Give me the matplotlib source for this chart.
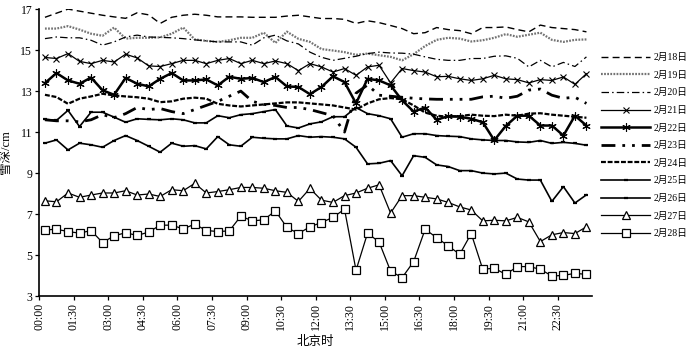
import numpy as np
import matplotlib
matplotlib.use("Agg")
import matplotlib.pyplot as plt

plt.rcParams['font.family'] = ['Liberation Serif', 'Noto Sans CJK SC']

# half-hourly samples (00:15, 00:45, ... 23:45), hours after midnight
hours = 0.25 + 0.5 * np.arange(48)

tick_hours = [0, 1.5, 3, 4.5, 6, 7.5, 9, 10.5, 12, 13.5, 15, 16.5, 18, 19.5, 21, 22.5]
tick_labels = ["00:00", "01:30", "03:00", "04:30", "06:00", "07:30", "09:00", "10:30",
               "12:00", "13:30", "15:00", "16:30", "18:00", "19:30", "21:00", "22:30"]

# snow depth (cm)
feb18 = [16.60, 16.80, 17.00, 16.90, 16.80, 16.70, 16.62, 16.55, 16.82, 16.72, 16.30, 16.60,
         16.70, 16.75, 16.70, 16.62, 16.62, 16.62, 16.60, 16.60, 16.60, 16.66, 16.70, 16.62,
         16.54, 16.54, 16.50, 16.30, 16.43, 16.34, 16.20, 16.05, 15.80, 15.85, 16.10, 16.00,
         15.95, 15.80, 16.10, 16.10, 16.13, 16.00, 15.89, 16.22, 16.10, 16.05, 16.00, 15.89]
feb19 = [16.05, 16.05, 16.17, 16.00, 15.80, 15.70, 16.10, 15.56, 15.60, 15.60, 15.62, 15.80,
         16.10, 15.52, 15.45, 15.40, 15.48, 15.60, 15.60, 15.85, 15.35, 15.90, 15.55, 15.40,
         15.05, 14.98, 14.90, 14.77, 14.83, 14.75, 14.67, 14.50, 14.80, 15.20, 15.50, 15.60,
         15.56, 15.42, 15.48, 15.60, 15.78, 15.65, 15.75, 15.85, 15.50, 15.40, 15.50, 15.52]
feb20 = [15.56, 15.64, 15.60, 15.60, 15.48, 15.24, 15.40, 15.64, 15.73, 15.64, 15.62, 15.60,
         15.56, 15.50, 15.45, 15.40, 15.40, 15.40, 15.24, 15.60, 15.73, 15.45, 15.30, 14.90,
         14.65, 14.50, 14.60, 14.70, 14.83, 14.90, 14.86, 14.85, 14.80, 14.67, 14.55, 14.50,
         14.50, 14.59, 14.59, 14.70, 14.72, 14.60, 14.18, 14.50, 14.18, 14.40, 14.20, 14.67]
feb21 = [14.64, 14.59, 14.83, 14.45, 14.34, 14.50, 14.42, 14.80, 14.62, 14.23, 14.20, 14.34,
         14.50, 14.50, 14.34, 14.50, 14.59, 14.34, 14.50, 14.34, 14.47, 14.34, 14.00, 14.34,
         14.18, 13.93, 14.10, 13.77, 14.18, 14.26, 13.40, 14.10, 14.00, 13.93, 13.70, 13.72,
         13.60, 13.52, 13.60, 13.77, 13.60, 13.56, 13.40, 13.56, 13.52, 13.69, 13.33, 13.85]
feb22 = [13.39, 13.88, 13.52, 13.36, 13.66, 13.04, 12.82, 13.64, 13.36, 13.23, 13.60, 13.88,
         13.52, 13.52, 13.57, 13.28, 13.70, 13.60, 13.64, 13.44, 13.69, 13.23, 13.20, 12.85,
         13.20, 13.72, 13.44, 12.40, 13.60, 13.52, 13.28, 12.55, 12.00, 12.20, 11.60, 11.78,
         11.75, 11.65, 11.48, 10.60, 11.30, 11.80, 11.80, 11.32, 11.32, 10.83, 11.80, 11.32]
feb23 = [11.60, 11.55, 11.55, 11.50, 11.60, 11.85, 11.70, 11.90, 12.20, 12.10, 12.15, 12.00,
         11.90, 12.10, 12.30, 12.50, 12.75, 13.00, 12.50, 12.35, 12.30, 12.20, 12.20, 12.10,
         11.95, 11.80, 11.00, 12.90, 13.30, 12.80, 12.75, 12.70, 12.65, 12.62, 12.60, 12.60,
         12.60, 12.60, 12.72, 12.75, 12.65, 12.75, 13.05, 13.10, 12.80, 12.65, 12.70, 12.40]
feb24 = [12.82, 12.71, 12.38, 12.63, 12.74, 12.87, 12.79, 12.74, 12.70, 12.63, 12.46, 12.50,
         12.63, 12.68, 12.63, 12.38, 12.30, 12.25, 12.30, 12.35, 12.40, 12.45, 12.45, 12.40,
         12.35, 12.30, 12.20, 12.10, 12.40, 12.60, 12.66, 12.60, 12.30, 11.95, 11.80, 11.75,
         11.78, 11.85, 11.80, 11.78, 11.85, 11.80, 11.90, 11.92, 11.85, 11.80, 11.75, 11.70]
feb25 = [11.62, 11.57, 12.06, 11.27, 11.97, 11.97, 11.73, 11.48, 11.65, 11.62, 11.60, 11.65,
         11.60, 11.45, 11.45, 11.80, 11.70, 11.85, 11.90, 12.00, 12.10, 11.30, 11.20, 11.40,
         11.50, 11.75, 11.75, 12.20, 11.90, 11.80, 11.65, 10.75, 10.92, 10.92, 10.83, 10.80,
         10.78, 10.67, 10.62, 10.59, 10.59, 10.52, 10.50, 10.59, 10.45, 10.50, 10.45, 10.36]
feb26 = [10.46, 10.62, 10.13, 10.46, 10.38, 10.26, 10.59, 10.83, 10.59, 10.31, 10.02, 10.46,
         10.31, 10.34, 10.18, 10.78, 10.38, 10.31, 10.75, 10.70, 10.67, 10.67, 10.83, 10.75,
         10.78, 10.75, 10.67, 10.26, 9.45, 9.48, 9.61, 8.87, 9.85, 9.77, 9.40, 9.32,
         9.12, 9.12, 9.00, 8.96, 9.00, 8.71, 8.66, 8.66, 7.62, 8.34, 7.54, 7.94]
feb27 = [7.65, 7.60, 8.03, 7.82, 7.93, 8.03, 8.03, 8.14, 7.93, 7.98, 7.86, 8.19,
         8.14, 8.50, 8.03, 8.10, 8.19, 8.30, 8.30, 8.26, 8.14, 8.06, 7.62, 8.25,
         7.68, 7.57, 7.90, 8.03, 8.26, 8.43, 7.05, 7.90, 7.90, 7.82, 7.74, 7.57,
         7.35, 7.20, 6.67, 6.70, 6.67, 6.84, 6.62, 5.66, 5.99, 6.10, 6.05, 6.38]
feb28 = [6.23, 6.26, 6.15, 6.07, 6.20, 5.61, 5.94, 6.09, 5.96, 6.12, 6.46, 6.46,
         6.28, 6.51, 6.20, 6.15, 6.18, 6.90, 6.67, 6.72, 7.16, 6.35, 6.05, 6.38,
         6.59, 6.84, 7.24, 4.26, 6.07, 5.64, 4.22, 3.90, 4.68, 6.26, 5.85, 5.45,
         5.04, 6.05, 4.31, 4.36, 4.06, 4.44, 4.44, 4.31, 3.98, 4.01, 4.11, 4.06]

labels = ["2月18日", "2月19日", "2月20日", "2月21日", "2月22日", "2月23日",
          "2月24日", "2月25日", "2月26日", "2月27日", "2月28日"]
series = [feb18, feb19, feb20, feb21, feb22, feb23, feb24, feb25, feb26, feb27, feb28]

styles = [
    dict(color='black', lw=1.0, ls=(0, (5, 3))),
    dict(color='0.45', lw=1.6, ls=(0, (0.8, 0.6))),
    dict(color='black', lw=0.9, ls=(0, (6, 2.5, 1.2, 2.5))),
    dict(color='black', lw=0.9, marker='x', ms=4.5, mew=0.8),
    dict(color='black', lw=1.8, marker=(6, 2, 0), ms=6, mew=0.8),
    dict(color='black', lw=2.0, ls=(0, (5, 2.5, 1, 2.5, 1, 2.5))),
    dict(color='black', lw=1.6, ls=(0, (2.2, 0.8))),
    dict(color='black', lw=1.2, marker='_', ms=3.5, mew=1.6),
    dict(color='black', lw=1.2, marker='_', ms=3.5, mew=1.6),
    dict(color='black', lw=0.9, marker='^', ms=5.5, mfc='white', mew=0.9),
    dict(color='black', lw=0.9, marker='s', ms=5.5, mfc='white', mew=0.9),
]

fig = plt.figure(figsize=(7, 3.5), dpi=100)
ax = fig.add_axes([0.056, 0.154, 0.79, 0.82])

for vals, lab, st in zip(series, labels, styles):
    ax.plot(hours, vals, label=lab, **st)

ax.set_xlim(0, 24)
ax.set_ylim(3, 17)
ax.set_yticks(range(3, 18, 2))
ax.set_xticks(tick_hours)
ax.set_xticklabels(tick_labels, rotation=90)
ax.tick_params(axis='both', direction='out', length=3, width=0.9, labelsize=8.5, pad=2)
for side in ('top', 'right'):
    ax.spines[side].set_visible(False)
for side in ('left', 'bottom'):
    ax.spines[side].set_linewidth(1.2)

ax.set_ylabel("雪深/cm", fontsize=9, labelpad=6)
ax.set_xlabel("北京时", fontsize=9, labelpad=4)

fig.legend(loc='upper left', bbox_to_anchor=(0.852, 0.862), frameon=False,
           fontsize=7, handlelength=5.0, handletextpad=0.4, labelspacing=0.88,
           numpoints=1, borderpad=0)

fig.savefig("out.png", dpi=100)
